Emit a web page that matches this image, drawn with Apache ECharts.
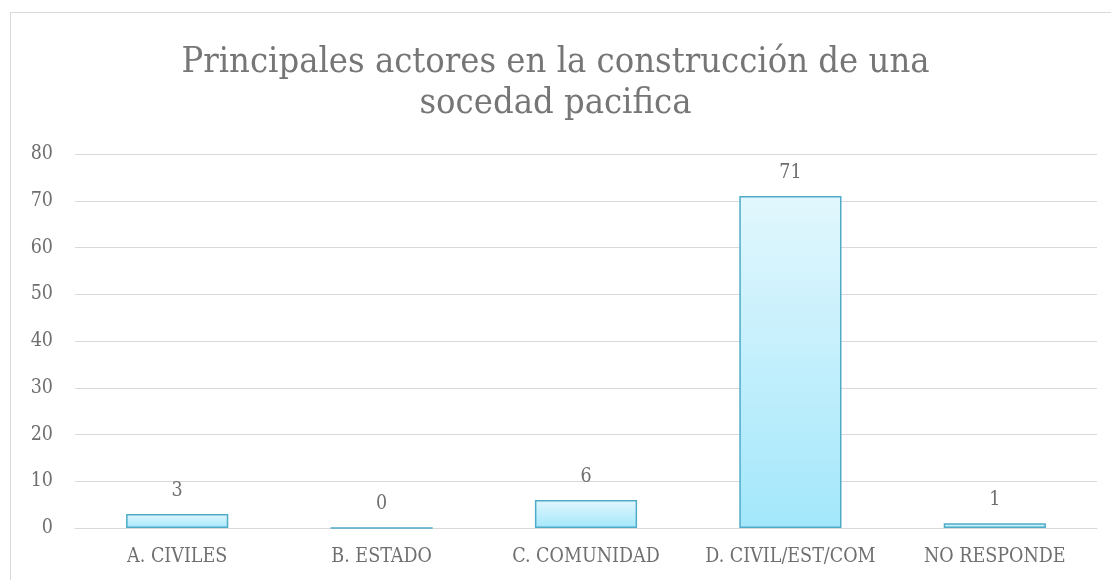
<!DOCTYPE html>
<html><head><meta charset="utf-8">
<script src="https://cdn.jsdelivr.net/npm/echarts@6/dist/echarts.min.js"></script>
<style>
html,body{margin:0;padding:0;background:#fff;overflow:hidden;}
#frame{position:absolute;left:10px;top:12px;width:1200px;height:700px;border:1px solid #d9d9d9;box-sizing:border-box;}
#chart{position:absolute;left:0;top:0;width:1111px;height:580px;}
</style></head>
<body>
<div id="frame"></div>
<div id="chart"></div>
<script>
const titleText = 'Principales actores en la construcción de una\nsocedad pacifica';
const categories = ['A. CIVILES', 'B. ESTADO', 'C. COMUNIDAD', 'D. CIVIL/EST/COM', 'NO RESPONDE'];
const values = [3, 0, 6, 71, 1];
const yTicks = [0, 10, 20, 30, 40, 50, 60, 70, 80];

const font = '"DejaVu Serif Condensed", "Liberation Serif", serif';
const chart = echarts.init(document.getElementById('chart'));
chart.setOption({
  animation: false,
  title: {
    text: titleText,
    left: 'center',
    top: 37,
    textStyle: { fontFamily: font, fontWeight: 'normal', fontSize: 36, color: '#767676', lineHeight: 41 }
  },
  grid: { left: 75, right: 14, top: 154, bottom: 52 },
  xAxis: {
    type: 'category',
    data: categories,
    axisTick: { show: false },
    axisLine: { lineStyle: { color: '#d9d9d9' } },
    axisLabel: { interval: 0, fontFamily: font, fontSize: 19.5, color: '#6f6f6f', margin: 19 }
  },
  yAxis: {
    type: 'value',
    min: yTicks[0], max: yTicks[yTicks.length - 1], interval: 10,
    axisLine: { show: false }, axisTick: { show: false },
    splitLine: { lineStyle: { color: '#d9d9d9' } },
    axisLabel: { fontFamily: font, fontSize: 19.5, color: '#6f6f6f', margin: 22 }
  },
  series: [{
    type: 'bar',
    data: values,
    barWidth: '50%',
    itemStyle: {
      color: new echarts.graphic.LinearGradient(0, 0, 0, 1, [
        { offset: 0, color: '#e2f7fd' },
        { offset: 1, color: '#a3e7fb' }
      ]),
      borderColor: '#4fabc8',
      borderWidth: 1.5
    },
    label: { show: true, position: 'top', distance: 13, fontFamily: font, fontSize: 19.5, color: '#6f6f6f' }
  }]
});
</script>
</body></html>
